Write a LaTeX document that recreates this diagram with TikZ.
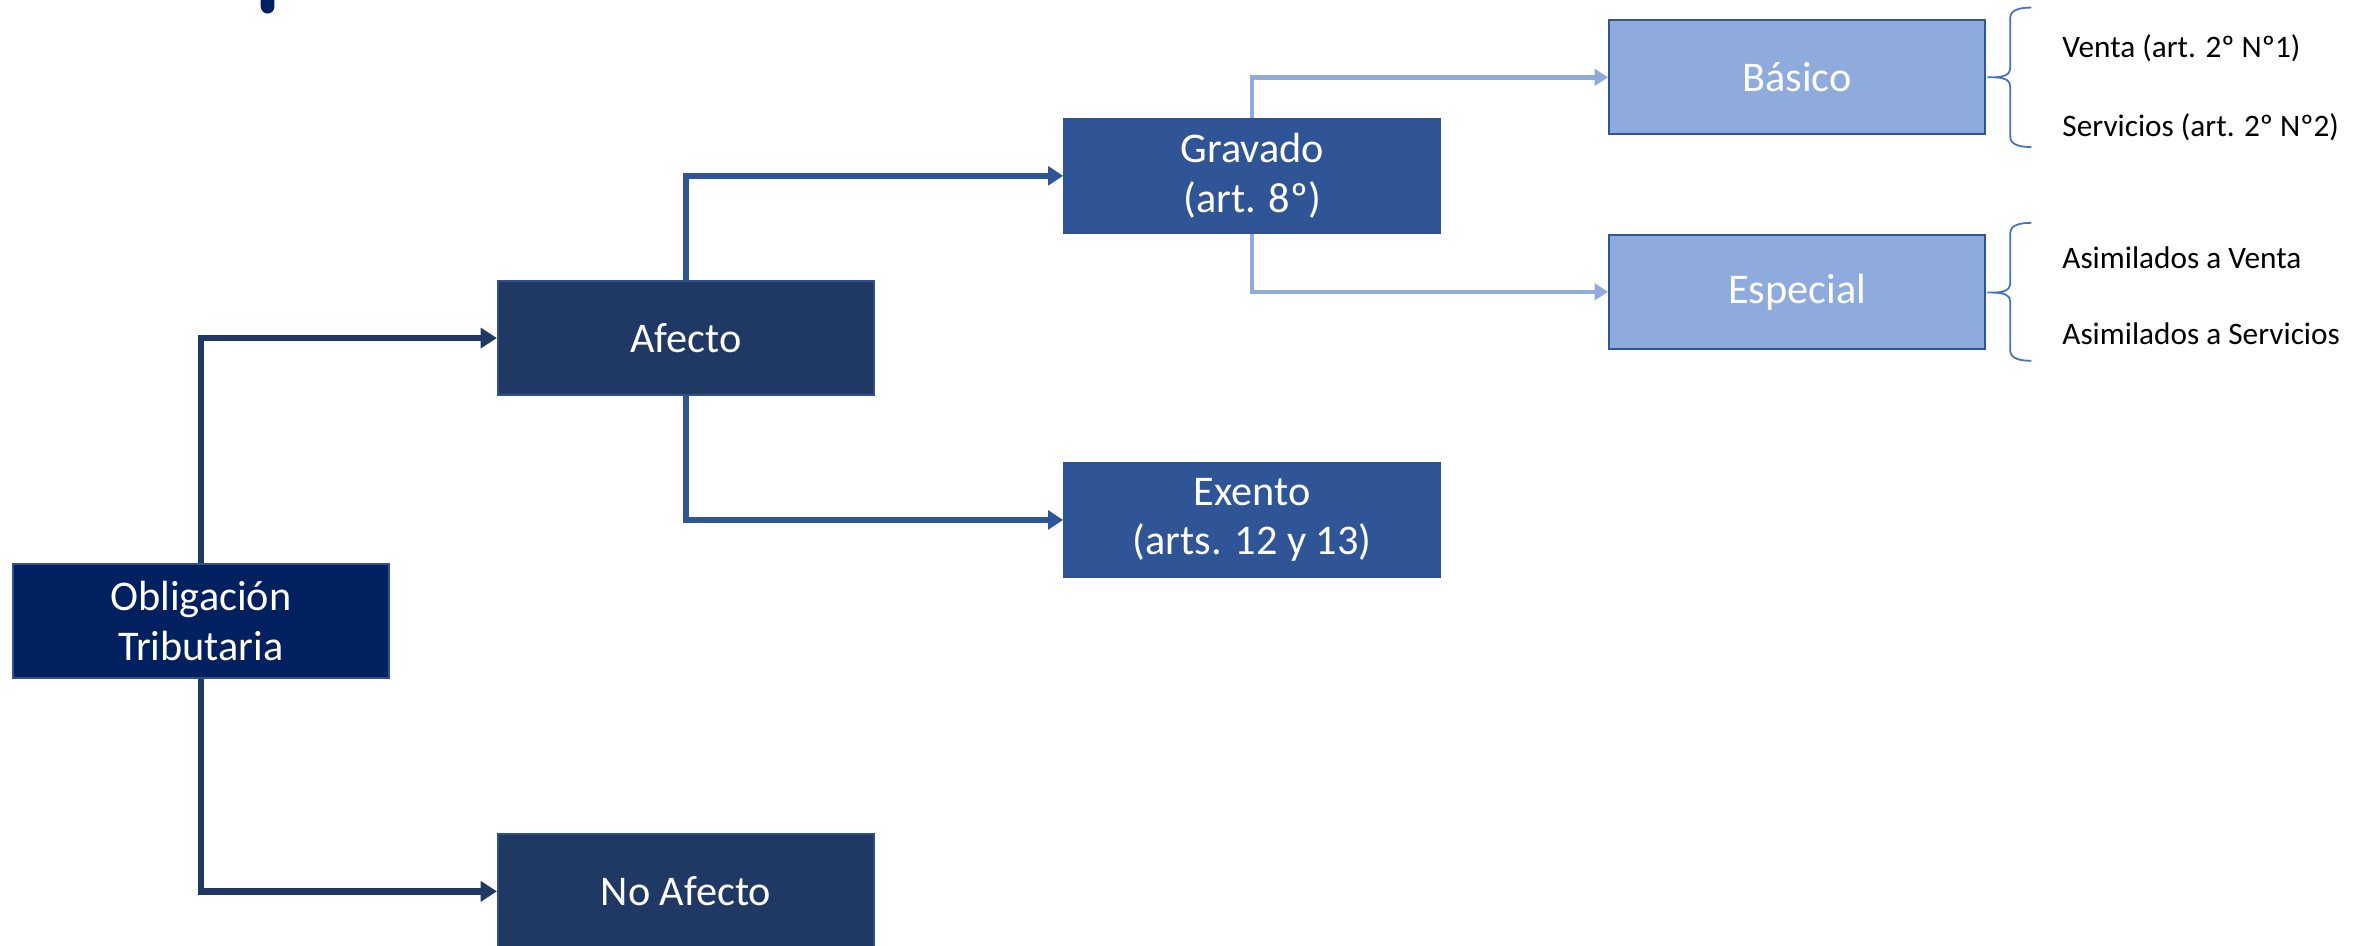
\documentclass[tikz,border=0pt]{standalone}
\usepackage{fontspec}
\setmainfont{Carlito}
\usepackage{tikz}
\usetikzlibrary{arrows.meta}

\definecolor{navy}{HTML}{002060}
\definecolor{darkblue}{HTML}{203864}
\definecolor{midblue}{HTML}{2F5597}
\definecolor{lightblue}{HTML}{8FAADC}
\definecolor{edgeblue}{HTML}{2F528F}
\definecolor{bracecol}{HTML}{4472C4}

\begin{document}
\begin{tikzpicture}[x=0.015cm,y=-0.015cm,
    box/.style={draw=edgeblue, line width=0.6pt, minimum width=3.72cm, minimum height=1.13cm,
                inner sep=0pt, align=center, text=white, font=\fontsize{11.9}{14}\selectfont},
    lvlone/.style={darkblue, line width=1.85pt, -{Triangle[length=4.6pt,width=5.6pt]}},
    lvltwo/.style={midblue, line width=1.6pt, -{Triangle[length=4.2pt,width=5.2pt]}},
    lvlthree/.style={lightblue, line width=1.3pt, -{Triangle[length=3.8pt,width=4.6pt]}},
    side/.style={anchor=west, inner sep=0pt, font=\fontsize{8.8}{10}\selectfont},
    curly/.style={bracecol, line width=0.5pt}]
     \useasboundingbox (0,0) rectangle (1568,624);
     \fill [navy, rounded corners=2] (172,-6) rectangle (181,9); % piece of the cut-off title

     \node [box, fill=navy] (oblig) at (132.5,409.5) {Obligación\\Tributaria};
     \node [box, fill=darkblue] (afecto) at (452.5,223) {Afecto};
     \node [box, fill=darkblue] (noafecto) at (452.5,588) {No Afecto};
     \node [box, fill=midblue] (gravado) at (826,116) {Gravado\\(art. 8º)};
     \node [box, fill=midblue] (exento) at (826,343) {Exento\\(arts. 12 y 13)};
     \node [box, fill=lightblue, draw=midblue] (basico) at (1185.5,51) {Básico};
     \node [box, fill=lightblue, draw=midblue] (especial) at (1185.5,192.5) {Especial};

     \draw [lvlone] (oblig.north) |- (afecto.west);
     \draw [lvlone] (oblig.south) |- (noafecto.west);
     \draw [lvltwo] (afecto.north) |- (gravado.west);
     \draw [lvltwo] (afecto.south) |- (exento.west);
     \draw [lvlthree] (gravado.north) |- (basico.west);
     \draw [lvlthree] (gravado.south) |- (especial.west);

     % braces: top curl, down, tip back at the box, down, bottom curl
     \draw [curly] (1340,5) to[out=180,in=90] (1326,12) -- (1326,45)
                   to[out=-90,in=0] (1311,51) to[out=0,in=90] (1326,57) -- (1326,90)
                   to[out=-90,in=180] (1340,97);
     \draw [curly] (1340,147) to[out=180,in=90] (1326,154) -- (1326,187)
                   to[out=-90,in=0] (1311,193) to[out=0,in=90] (1326,199) -- (1326,231)
                   to[out=-90,in=180] (1340,238);

     \node [side] (venta) at (1360,32) {Venta (art. 2º Nº1)};
     \node [side] (servicios) at (1360,84) {Servicios (art. 2º Nº2)};
     \node [side] (asimventa) at (1360,170) {Asimilados a Venta};
     \node [side] (asimserv) at (1360,220) {Asimilados a Servicios};
  \end{tikzpicture}
\end{document}
